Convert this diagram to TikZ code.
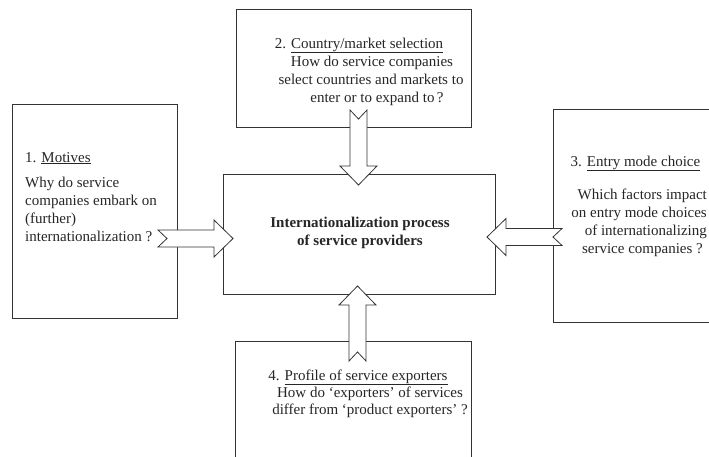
\documentclass[tikz,border=0pt]{standalone}
\usepackage{fontspec}
\setmainfont{Liberation Serif}
\begin{document}
\begin{tikzpicture}[x=1pt,y=-1pt,
  box/.style={draw=black!80, line width=0.8pt, fill=white, inner sep=0pt, outer sep=0pt},
  txt/.style={inner sep=0pt, font=\fontsize{15}{18}\selectfont, text=black!85},
  hd/.style={txt, anchor=base},
  lw/.style={txt, anchor=base west},
  le/.style={txt, anchor=base east},
  blockarrow/.pic={
    \draw[draw=black!80, line width=0.8pt, fill=white, line join=miter]
      (0,-8.5) -- (56,-8.5) -- (56,-18.5) -- (75,0) -- (56,18.5) -- (56,8.5)
      -- (0,8.5) -- (9,0) -- cycle;
  }]
\useasboundingbox (0,0) rectangle (709,456);
\clip (0,0) rectangle (709,456);

% the five boxes
\node[box, minimum width=165, minimum height=214] (motives) at (94.5,211) {};
\node[box, minimum width=235, minimum height=118] (country) at (353.5,68) {};
\node[box, minimum width=272, minimum height=120] (core) at (359,234) {};
\node[box, minimum width=177, minimum height=213] (entry) at (641.5,215.5) {};
\node[box, minimum width=236, minimum height=129] (profile) at (353,405.5) {};

% block arrows pointing into the central box
\pic at (158,238.5) {blockarrow};
\pic[rotate=-90] at (358.5,110) {blockarrow};
\pic[rotate=180] at (562,237) {blockarrow};
\pic[rotate=90] at (357.5,361) {blockarrow};

% central box
\node[hd, font=\fontsize{15}{18}\selectfont\bfseries] (core1) at (360,227) {Internationalization process};
\node[hd, font=\fontsize{15}{18}\selectfont\bfseries] (core2) at (360,245) {of service providers};

% 1. Motives
\node[lw] (m0) at (25,162) {1. \underline{Motives}};
\node[lw] (m1) at (25,187) {Why do service};
\node[lw] (m2) at (25,205) {companies embark on};
\node[lw] (m3) at (25,223) {(further)};
\node[lw] (m4) at (25,241) {internationalization ?};

% 2. Country/market selection
\node[hd] (c0) at (359,48) {2. \underline{Country/market selection}};
\node[hd] (c1) at (372,66) {How do service companies};
\node[hd] (c2) at (371,84) {select countries and markets to};
\node[hd] (c3) at (377,102) {enter or to expand to\,?};

% 3. Entry mode choice
\node[hd] (e0) at (635.5,166) {3. \underline{Entry mode choice}};
\node[le] (e1) at (707,199) {Which factors impact};
\node[le] (e2) at (707,217) {on entry mode choices};
\node[le] (e3) at (707,235) {of internationalizing};
\node[le] (e4) at (703,253) {service companies ?};

% 4. Profile of service exporters
\node[hd] (p0) at (358,380) {4. \underline{Profile of service exporters}};
\node[hd] (p1) at (370,397) {How do `exporters' of services};
\node[hd] (p2) at (370,414) {differ from `product exporters' ?};
\end{tikzpicture}
\end{document}
